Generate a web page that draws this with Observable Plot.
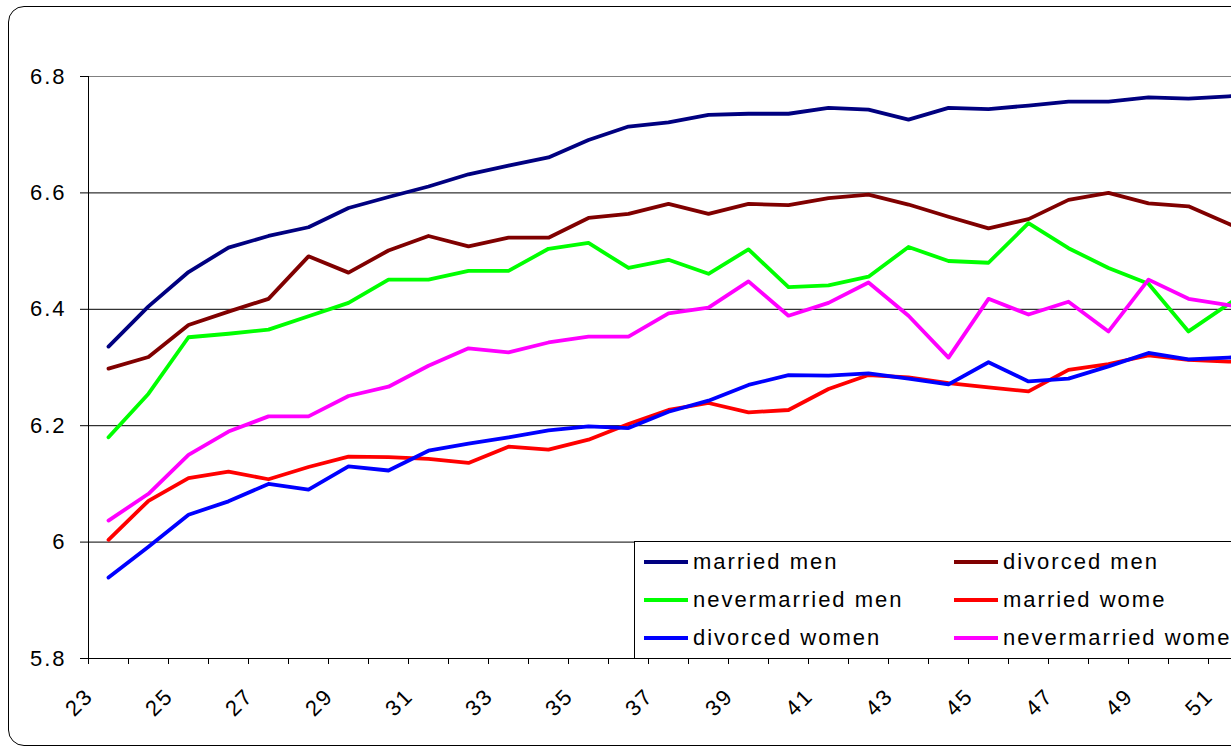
<!DOCTYPE html>
<html>
<head>
<meta charset="utf-8">
<script src="https://cdn.jsdelivr.net/npm/d3@7"></script>
<script src="https://cdn.jsdelivr.net/npm/@observablehq/plot@0.6"></script>
<style>
  html, body { margin: 0; padding: 0; background: #fff; overflow: hidden; width: 1231px; height: 747px; }
  #wrap { position: relative; width: 1231px; height: 747px; overflow: hidden; font-family: "Liberation Sans", Arial, sans-serif; }
  #frame { position: absolute; left: 8px; top: 6px; width: 1400px; height: 740px; border: 1px solid #000; border-radius: 16px; box-sizing: border-box; }
  #chart { position: absolute; left: 0; top: 0; }
  #legend { position: absolute; left: 634px; top: 541px; width: 700px; height: 118px; border: 1px solid #000; background: #fff; box-sizing: border-box; }
  .item { position: absolute; height: 30px; }
  .sw { position: absolute; left: 0; top: 13px; width: 44px; height: 4px; }
  .lab { position: absolute; left: 49px; top: 0; line-height: 30px; font-size: 22px; letter-spacing: 2px; white-space: nowrap; color: #000; }
</style>
</head>
<body>
<div id="wrap">
  <div id="frame"></div>
  <div id="chart"></div>
  <div id="legend"></div>
</div>
<script>
// ---- data ----
const ages = [23,24,25,26,27,28,29,30,31,32,33,34,35,36,37,38,39,40,41,42,43,44,45,46,47,48,49,50,51,52];
const seriesNames = ["married men","divorced men","nevermarried men","married wome","divorced women","nevermarried wome"];
const seriesColors = ["#000080","#800000","#00FF00","#FF0000","#0000FF","#FF00FF"];
const marriedMen = [6.336,6.405,6.464,6.506,6.526,6.541,6.574,6.593,6.611,6.632,6.647,6.661,6.691,6.714,6.721,6.734,6.736,6.736,6.746,6.743,6.726,6.746,6.744,6.750,6.757,6.757,6.764,6.762,6.766,6.770];
const divorcedMen = [6.298,6.318,6.373,6.396,6.418,6.491,6.463,6.501,6.526,6.508,6.523,6.523,6.557,6.564,6.581,6.564,6.581,6.579,6.591,6.597,6.580,6.559,6.539,6.555,6.588,6.600,6.582,6.577,6.547,6.515];
const nevermarriedMen = [6.180,6.255,6.352,6.358,6.365,6.388,6.411,6.451,6.451,6.466,6.466,6.504,6.514,6.471,6.485,6.461,6.503,6.438,6.441,6.456,6.507,6.483,6.480,6.548,6.505,6.471,6.444,6.362,6.409,6.455];
const marriedWomen = [6.004,6.071,6.110,6.121,6.108,6.129,6.147,6.146,6.143,6.136,6.164,6.159,6.176,6.203,6.227,6.239,6.223,6.227,6.263,6.287,6.283,6.273,6.266,6.259,6.296,6.306,6.321,6.313,6.310,6.310];
const divorcedWomen = [5.939,5.992,6.047,6.070,6.100,6.090,6.130,6.123,6.157,6.169,6.180,6.192,6.199,6.196,6.224,6.243,6.270,6.287,6.286,6.290,6.281,6.271,6.309,6.276,6.281,6.302,6.325,6.314,6.317,6.320];
const nevermarriedWomen = [6.037,6.083,6.150,6.190,6.216,6.216,6.251,6.267,6.303,6.333,6.326,6.343,6.353,6.353,6.393,6.403,6.448,6.389,6.411,6.446,6.389,6.317,6.418,6.391,6.413,6.362,6.451,6.418,6.407,6.400];
const yTicks = [5.8, 6, 6.2, 6.4, 6.6, 6.8];
const xTickLabels = [23,25,27,29,31,33,35,37,39,41,43,45,47,49,51];
const xTickMarks = [22.5,23.5,24.5,25.5,26.5,27.5,28.5,29.5,30.5,31.5,32.5,33.5,34.5,35.5,36.5,37.5,38.5,39.5,40.5,41.5,42.5,43.5,44.5,45.5,46.5,47.5,48.5,49.5,50.5,51.5,52.5];

const allSeries = [marriedMen, divorcedMen, nevermarriedMen, marriedWomen, divorcedWomen, nevermarriedWomen];
const rows = [];
allSeries.forEach((vals, i) => vals.forEach((v, j) => rows.push({age: ages[j], value: v, series: seriesNames[i]})));

const chart = Plot.plot({
  width: 1231,
  height: 747,
  marginLeft: 88,
  marginTop: 76,
  marginBottom: 89,
  marginRight: 0,
  style: {fontFamily: "'Liberation Sans', Arial, sans-serif", fontSize: "22px", letterSpacing: "2px", background: "transparent", color: "#000"},
  x: {type: "linear", domain: [22.5, 52.5], range: [88, 1288]},
  y: {domain: [5.8, 6.8]},
  color: {domain: seriesNames, range: seriesColors},
  marks: [
    Plot.ruleY([6, 6.2, 6.4, 6.6], {stroke: "#000", strokeWidth: 1}),
    Plot.ruleY([6.8], {stroke: "#808080", strokeWidth: 1}),
    Plot.axisY({ticks: yTicks, tickSize: 8, tickPadding: 14, tickFormat: d => String(d), label: null, stroke: "#000", strokeOpacity: 1}),
    Plot.axisX({ticks: xTickMarks, tickSize: 6, tickFormat: () => "", label: null, stroke: "#000", strokeOpacity: 1}),
    Plot.text(xTickLabels, {x: d => d, frameAnchor: "bottom", text: d => String(d), rotate: -45, textAnchor: "end", lineAnchor: "middle", dx: -19, dy: 34}),
    Plot.line(rows, {x: "age", y: "value", z: "series", stroke: "series", strokeWidth: 3.8}),
    Plot.ruleY([5.8], {stroke: "#000", strokeWidth: 1}),
    Plot.ruleX([22.5], {y1: 5.8, y2: 6.8, stroke: "#000", strokeWidth: 1})
  ]
});
document.getElementById("chart").appendChild(chart);

// legend
const legend = document.getElementById("legend");
seriesNames.forEach((name, i) => {
  const col = i % 2, row = Math.floor(i / 2);
  const item = document.createElement("div");
  item.className = "item";
  item.style.left = (9 + col * 310) + "px";
  item.style.top = (5 + row * 38) + "px";
  const sw = document.createElement("div");
  sw.className = "sw";
  sw.style.background = seriesColors[i];
  const lab = document.createElement("div");
  lab.className = "lab";
  lab.textContent = name;
  item.appendChild(sw);
  item.appendChild(lab);
  legend.appendChild(item);
});
</script>
</body>
</html>
